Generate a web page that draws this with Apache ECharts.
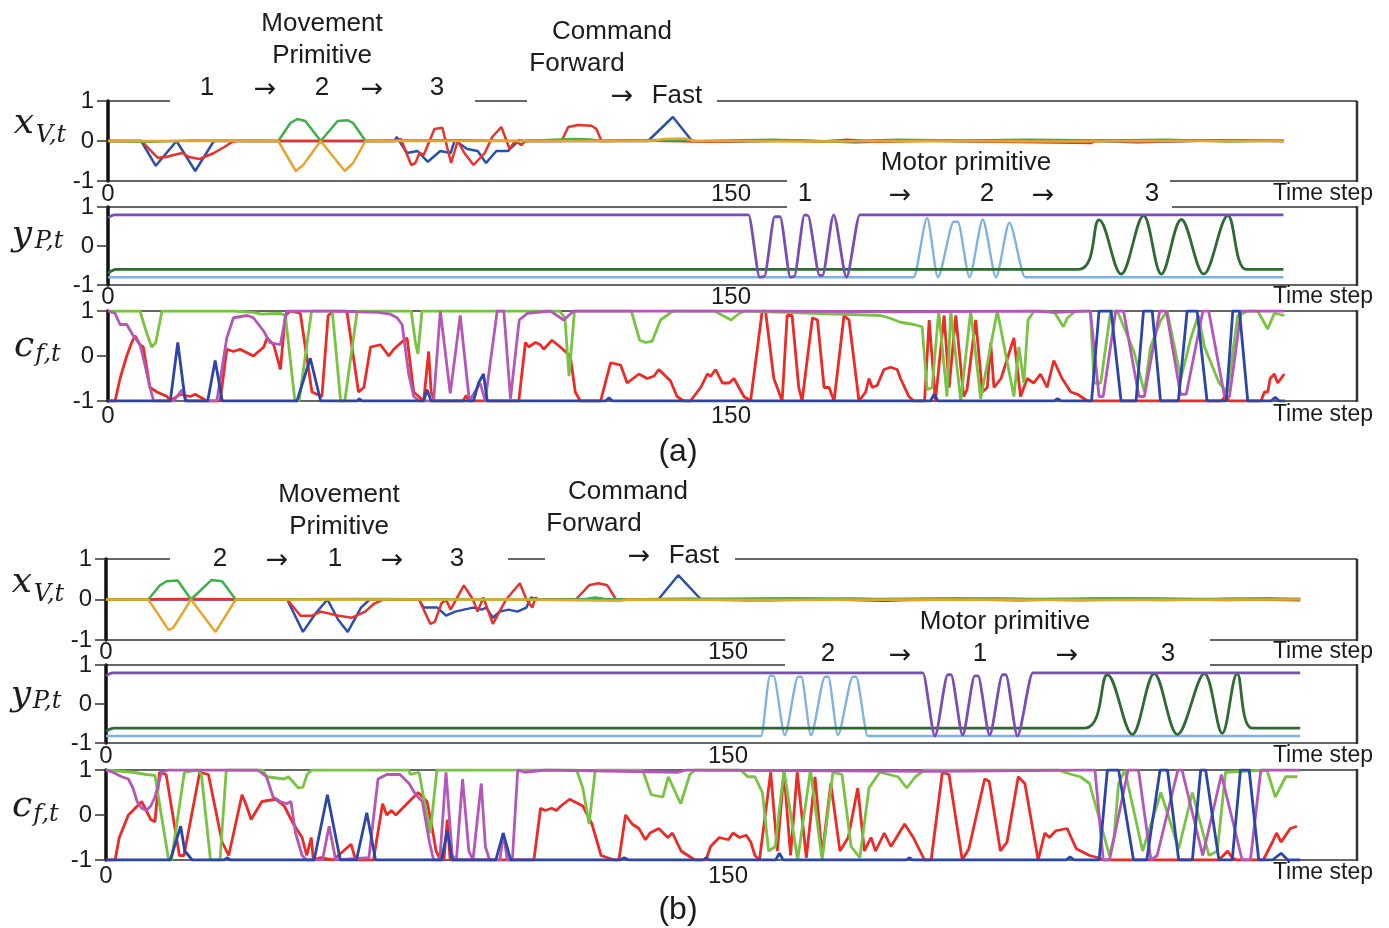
<!DOCTYPE html>
<html><head><meta charset="utf-8">
<script src="https://cdn.jsdelivr.net/npm/echarts@6/dist/echarts.min.js"></script>
<style>html,body{margin:0;padding:0;background:#fff}#c{width:1389px;height:928px}</style>
</head><body><div id="c"></div>
<script>
// ---------- tick labels ----------
const xTickLabels = [0, 150];
const yTickLabels = [-1, 0, 1];

// ---------- panel (a) : x_V,t ----------
const aXvBlue = [[0,0],[8,0],[11.5,-0.62],[16.5,0],[21,-0.75],[25.5,0],[69,0],[69.5,0.1],[72,-0.3],[74.5,-0.25],[77,-0.52],[80,-0.25],[82.5,-0.3],[83.5,0.02],[86.5,-0.2],[89,-0.25],[91,-0.55],[93.5,-0.25],[96.3,-0.25],[97,-0.18],[99,0.02],[100,0],[130,0],[136,0.6],[140.6,0],[150,-0.02],[165,0.01],[180,-0.03],[195,0.01],[212,-0.02],[230,0.02],[248,-0.03],[265,0.01],[283,0]];
const aXvRed = [[0,0],[8,0],[12,-0.42],[14,-0.4],[16.5,-0.33],[18,-0.3],[19.5,-0.4],[22,-0.45],[25.5,-0.3],[28,-0.15],[30,-0.02],[31,0],[69,0],[70.5,0.05],[73,-0.6],[74,-0.55],[75,-0.3],[76,-0.35],[78.6,0.3],[80.5,0.33],[82.6,-0.55],[84.2,0],[85.8,-0.3],[88,-0.6],[90.7,-0.3],[92.5,0.1],[94.7,0.35],[96.7,-0.2],[98,0],[99.5,-0.1],[100.5,0],[109.2,0],[110.8,0.35],[113.2,0.4],[116.4,0.38],[117.6,0.3],[118.8,0],[128,0.01],[145,-0.02],[160,0.02],[172,-0.01],[178,0.03],[185,-0.02],[200,0.01],[215,-0.02],[236.6,-0.05],[238,0.01],[250,-0.01],[270,0.02],[283,0]];
const aXvGreen = [[0,0],[10,-0.02],[20,0.01],[41,0],[43.9,0.45],[45.6,0.55],[47.5,0.5],[51.2,0],[55.3,0.5],[57.7,0.52],[59,0.45],[62,0],[70,0.01],[85,0.02],[100,0],[112,0.05],[116,0.04],[119,0],[136,0.03],[140,0.02],[142,0],[160,0.03],[175,-0.01],[190,0.03],[205,0.01],[222,0.03],[240,0.01],[255,0.03],[270,-0.01],[283,0.01]];
const aXvOrange = [[0,0],[41,0],[45.2,-0.75],[47,-0.6],[51.2,0],[57,-0.75],[59,-0.55],[62,0],[100,0],[131,0],[134,0.05],[139,0.06],[141,0],[170,-0.01],[200,0],[230,-0.01],[260,0],[283,0]];

// ---------- panel (a) : y_P,t ----------
const aYpPurple = [[0,0.72],[1.5,0.8],[154.2,0.8],[156.9,-0.8],[158,-0.78],[160.5,0.75],[161.8,0.75],[164.3,-0.8],[165.2,-0.78],[167.7,0.8],[168.5,0.78],[171.3,-0.75],[172,-0.76],[174.7,0.8],[177.8,-0.8],[181,0.8],[283,0.8]];
const aYpLightBlue = [[0,-0.8],[194,-0.8],[197.2,0.72],[199.8,-0.8],[203.6,0.62],[204.6,0.62],[207.4,-0.8],[210.6,0.68],[213.8,-0.8],[217,0.6],[220.8,-0.8],[283,-0.8]];
const aYpGreen = [[0,-0.7],[2,-0.6],[233.7,-0.6],[238.6,0.67],[243.9,-0.72],[249.3,0.78],[253.6,-0.72],[258.4,0.68],[263.8,-0.72],[269.6,0.78],[274,-0.6],[283,-0.6]];

// ---------- panel (a) : c_f,t ----------
const aCfRed = [[0,-1],[1.7,-1],[2.9,-0.5],[4.5,0],[5.7,0.3],[6.5,0.45],[7.7,0.25],[8.5,0.2],[10.1,-0.7],[11.8,-0.8],[14.2,-0.9],[15,-1],[17.4,-0.85],[19.8,-0.9],[21,-0.85],[23.8,-1],[27,-1],[28.6,0.15],[30.2,0.1],[31.8,0.15],[35,0],[37.5,0.2],[38.3,0.4],[39.9,0.25],[41.5,-0.3],[42.7,0.9],[43.9,1],[46.3,0.95],[49.1,-0.8],[51.5,-0.9],[53,0.9],[54.3,1],[57.5,1],[60.3,-0.8],[61.6,-0.7],[63.2,0.2],[65.6,0.25],[67.6,0],[68.8,0.15],[71.2,0.35],[72,0.4],[73.6,-0.8],[74.8,-0.9],[76,-1],[77.2,0.1],[77.8,-0.8],[78.6,-1],[85.5,-1],[86.2,-0.88],[87,-1],[98.9,-1],[100.5,0.3],[101.3,0.2],[102.9,0.3],[104.1,0.25],[104.9,0.15],[106.9,0.35],[108.9,0.2],[111.3,0],[112.5,-0.8],[113.7,-1],[118.6,-1],[121,-0.15],[123.4,-0.2],[125,-0.6],[127.8,-0.4],[129.8,-0.5],[131.4,-0.45],[132.6,-0.3],[135.4,-0.55],[137,-0.9],[138.6,-1],[140.2,-1],[142.7,-0.7],[144.3,-0.4],[145.1,-0.45],[146.3,-0.3],[147.9,-0.6],[149.5,-0.6],[150.7,-0.5],[153.1,-0.9],[154.7,-1],[157.5,1],[158.3,1],[160.3,-0.5],[162.3,-1],[163.5,0.9],[164.7,0.9],[166.3,-0.7],[167.1,-1],[169.6,0.85],[170.8,0.8],[172.4,-0.7],[173.6,-0.7],[174.8,-1],[177.2,0.9],[178.4,0.8],[180.8,-1],[182.4,-0.8],[183.2,-0.5],[184,-0.7],[185.2,-0.65],[186.8,-0.3],[188.4,-0.25],[190,-0.3],[190.8,-0.5],[192.8,-0.9],[194,-1],[196.6,-1],[197.7,0.8],[199.2,-1],[201.3,0.9],[202.5,-0.7],[204.1,0.9],[206,-0.9],[206.8,-0.75],[208.9,0.8],[210.5,-0.8],[211.7,-0.7],[212.5,0.3],[213.3,-0.7],[215,-0.5],[218.1,0.4],[219.7,-0.9],[221.3,-0.5],[222.9,-0.6],[224.5,-0.4],[226.1,-0.7],[227.7,-0.1],[229.7,-0.5],[231.8,-0.8],[233.4,-0.85],[235.8,-1],[268,-1],[269,-0.9],[270,-1],[277.6,-1],[278.4,-0.8],[279.2,-0.8],[279.8,-0.5],[280.8,-0.4],[281.6,-0.6],[283.2,-0.4]];
const aCfGreen = [[0,1],[7.7,1],[9,0.6],[10.5,0.2],[11.5,0.3],[13,1],[30,1],[35,0.97],[37,0.93],[41.5,0.95],[42.7,0.9],[45,-1],[46,-1],[49,1],[54,1],[56,-1],[57,-1],[60,1],[73,1],[74,0.3],[74.6,0.05],[75.6,1],[108.7,1],[110,0.85],[111,-0.45],[112.3,1],[126,1],[128,0.35],[129.5,0.3],[131,0.33],[133,0.8],[134.5,0.9],[136,1],[146,1],[148,0.9],[150,0.8],[152,0.95],[153.5,1],[186,0.9],[188,0.85],[190.8,0.75],[194,0.7],[196,0.65],[197.2,-0.75],[198.4,-0.7],[200,1],[202,-0.9],[202.9,1],[205.3,-1],[207.7,1],[210.1,-0.95],[214.1,1],[218.1,-0.9],[219.3,0.2],[220.5,-0.6],[221.5,0.8],[223,1],[226,1],[228,0.95],[230,0.65],[231,0.85],[233,1],[236.5,1],[237.4,-0.6],[239,-0.6],[241.4,1],[243,1],[247,0.1],[249.5,-0.8],[251,0.2],[253.5,0.8],[255,1],[258.3,-0.5],[260.7,0.4],[262.5,0.9],[264,0.2],[267.5,-0.6],[269.5,-0.8],[272,0.9],[274.4,1],[276.8,1],[279.2,0.6],[280.8,0.95],[283.2,0.9]];
const aCfMagenta = [[0,1],[1.7,0.95],[2.9,0.7],[4.5,0.7],[6.1,0.45],[7.7,0.25],[8.9,-0.2],[10.1,-0.7],[11,-1],[15.8,-1],[17.8,-0.75],[19,-1],[26.2,-1],[28.6,0.4],[30.2,0.85],[33.5,0.9],[35,0.85],[37.5,0.55],[39,0.3],[41.5,0.25],[43,1],[55,1],[60,0.98],[65,0.97],[68,0.93],[69.6,0.85],[70.8,0.7],[72.4,-0.4],[73.6,-0.9],[75,-1],[78.4,-1],[80,1],[82.4,-0.83],[84.8,0.9],[87,-1],[89.6,-0.6],[90.8,-1],[93.7,1],[95.3,1],[96.9,-0.95],[99,0.8],[101,0.95],[106.5,1],[108.9,0.85],[109.7,0.8],[112.1,1],[160,1],[190,0.98],[223,1],[228,0.97],[235.5,1],[236.5,1],[238.6,-0.9],[239.6,-0.9],[242.6,1],[244.5,1],[248.2,-0.9],[249.5,-0.9],[253.2,1],[254.8,1],[258.2,-0.85],[259.6,-0.85],[263.6,1],[265,1],[268.8,-0.9],[270,-0.9],[272.8,1],[283.2,1]];
const aCfBlue = [[0,-1],[15,-1],[16.8,0.3],[18.6,-1],[24,-1],[25.8,-0.1],[27.5,-1],[45.5,-1],[48.7,-0.05],[51.2,-1],[60,-1],[60.5,-0.95],[61.2,-1],[76,-1],[76.8,-0.75],[77.8,-1],[88,-1],[89.2,-0.6],[90.4,-0.4],[91.3,-1],[119.8,-1],[120.6,-0.93],[121.5,-1],[198,-1],[198.9,-0.85],[199.8,-1],[227.8,-1],[228.6,-0.95],[229.5,-1],[236.8,-1],[238.6,1],[241.5,1],[243.9,-1],[247.5,-1],[249.3,1],[251.4,1],[253.4,-1],[257.7,-1],[259.8,1],[262.2,1],[264.6,-1],[269.2,-1],[270.8,1],[272.4,1],[274.4,-1],[280,-1],[281,-0.92],[282,-1],[283.4,-1]];

// ---------- panel (b) : x_V,t ----------
const bXvBlue = [[0,0],[43.7,0],[47.5,-0.8],[50.5,-0.35],[53.4,0],[56,-0.5],[58.3,-0.8],[61.5,-0.2],[63.6,0],[75.5,0],[76.6,-0.2],[79.9,-0.2],[82,-0.4],[84.2,-0.3],[86.3,-0.25],[88.5,-0.2],[90.6,-0.25],[91.7,-0.2],[93.3,-0.45],[94.9,-0.3],[97.1,-0.25],[99.2,-0.3],[101.4,-0.2],[102.5,0.05],[103.6,0],[133.2,0],[138,0.6],[143.5,0],[155,-0.02],[170,0.01],[188,-0.03],[200,0.01],[220,-0.02],[240,0.02],[255,-0.01],[272,0.01],[288,-0.02]];
const bXvRed = [[0,0],[20,0.01],[43.7,0],[46.9,-0.4],[49.6,-0.4],[51.8,-0.3],[56.1,-0.4],[59.3,-0.45],[62.5,-0.3],[64.7,-0.1],[66.9,0],[75.5,0],[78.2,-0.6],[79.3,-0.55],[80.9,-0.1],[82,0],[83.1,-0.25],[86.3,0.35],[88.5,0],[89.6,-0.3],[91,0.05],[93.3,-0.6],[94.9,-0.3],[96.5,0],[99.8,0.4],[101.4,0],[102.8,-0.2],[103.6,0.05],[104.2,0],[113.3,0],[116.5,0.35],[118.7,0.4],[120.9,0.35],[123,0],[140,0.02],[160,-0.02],[180,0.02],[195,-0.01],[215,0.02],[235,-0.02],[252,0.02],[270,-0.01],[288,0.01]];
const bXvGreen = [[0,0],[10.2,0],[13,0.35],[14.6,0.45],[17.3,0.47],[20.5,0],[25.4,0.48],[28,0.45],[31.3,0],[60,0.01],[100,0],[115,0],[118,0.05],[121,0],[140,0.01],[165,0.03],[185,0.01],[205,0.03],[225,0.01],[245,0.03],[265,0.01],[280,0.03],[288,0.01]];
const bXvOrange = [[0,0],[10.2,0],[15.1,-0.75],[16.2,-0.7],[20.5,0],[26.4,-0.8],[31.3,0],[100,0],[124,-0.03],[126,0],[160,-0.01],[200,0],[240,-0.01],[288,0]];

// ---------- panel (b) : y_P,t ----------
const bYpLightBlue = [[0,-0.82],[158,-0.82],[160.1,0.72],[161,0.72],[163.7,-0.8],[166.9,0.7],[167.7,0.7],[170,-0.8],[173.4,0.7],[174.2,0.7],[176.5,-0.8],[180.1,0.7],[180.9,0.7],[183.7,-0.82],[288,-0.82]];
const bYpPurple = [[0,0.72],[1.5,0.8],[197,0.8],[199.9,-0.82],[203,0.75],[203.8,0.75],[206.6,-0.8],[209.5,0.72],[210.3,0.72],[213.1,-0.8],[216.2,0.75],[217,0.75],[219.8,-0.82],[223.5,0.8],[288,0.8]];
const bYpGreen = [[0,-0.7],[2,-0.62],[236,-0.62],[241.5,0.75],[247.5,-0.78],[252.8,0.78],[258.4,-0.78],[264.9,0.78],[269.2,-0.75],[272.8,0.78],[276.4,-0.62],[288,-0.62]];

// ---------- panel (b) : c_f,t ----------
const bCfRed = [[0,-1],[2.2,-1],[3.2,-0.5],[5.4,0],[6.5,0.1],[8.6,0.3],[9.7,0.1],[10.8,-0.1],[11.8,-0.15],[12.9,0.95],[14.5,0.9],[17.7,-0.9],[18.8,-0.9],[22.6,0.95],[24.7,0.9],[28,-0.6],[29.6,-0.9],[32.8,0.45],[33.9,0.2],[35,-0.1],[37.6,0.3],[40.9,0.35],[43,0.2],[45.2,-0.2],[47.3,-0.5],[48.4,-0.9],[49.5,-0.5],[50,-1],[51.6,-0.95],[54.8,-1],[59.1,-0.65],[60.2,-1],[64.5,-1],[66.7,0.25],[67.7,0],[68.8,0.1],[69.9,0],[73.1,0.3],[75.3,0.5],[77.4,0.3],[78.5,-0.2],[79.6,-0.8],[80.7,-1],[81.5,-1],[82.3,-0.1],[83,-1],[103.2,-1],[104.8,0.15],[105.9,0.1],[107.5,0.15],[108.6,0.1],[109.7,0.2],[111.8,0.35],[115,0.2],[117.2,-0.2],[119.4,-0.9],[122.6,-1],[123.7,-1],[125.3,0],[126.9,-0.2],[128.5,-0.3],[130.1,-0.55],[131.2,-0.4],[133.3,-0.3],[135.5,-0.5],[136.6,-0.4],[138.7,-0.8],[142,-1],[144.7,-1],[145.8,-0.7],[147.9,-0.5],[150.1,-0.55],[151.2,-0.4],[152.8,-0.5],[154.4,-0.45],[155.5,-0.6],[156.5,-0.9],[157.6,-1],[160.3,0.95],[161.9,-0.8],[163.5,0.95],[165.1,-0.9],[166.7,0.95],[168.9,-0.95],[171,0.85],[172.7,-0.9],[174.8,0.7],[177,-0.8],[179,-0.5],[181.3,0.6],[182.9,-0.8],[184.5,-0.5],[185.6,-0.8],[187.7,-0.4],[189.3,-0.7],[192.6,-0.2],[194.7,-0.5],[197.4,-1],[199,-1],[201.7,0.95],[203.3,0.9],[206.5,-1],[208.1,-0.75],[211.9,0.8],[213,0.75],[215.7,-0.8],[217.3,-0.6],[220,0.85],[221.6,0.7],[224.8,-1],[226.4,-0.4],[227.5,-0.5],[229.1,-0.35],[231.8,-0.3],[234,-0.75],[237.2,-0.9],[239.3,-0.95],[240.4,-1],[268.4,-1],[270.5,-0.8],[271.6,-0.95],[272.7,-1],[279.1,-1],[281.3,-0.6],[282.3,-0.4],[283.4,-0.6],[285.6,-0.3],[287.2,-0.25]];
const bCfGreen = [[0,1],[6.5,0.95],[9.7,0.9],[11.8,0.88],[15.1,-1],[15.8,-1],[18.9,0.95],[22,1],[23,0.9],[25.2,-1],[27.5,-1],[29,1],[37.8,1],[38.8,0.85],[43,0.8],[44,0.85],[46.4,0.6],[47.5,0.62],[48.5,0.9],[49.6,1],[73,1],[73.4,0.9],[75.5,0.95],[78.2,-0.4],[79.8,1],[113.5,1],[115,0.6],[116.5,-0.2],[118,1],[129.4,1],[131.5,0.45],[134.3,0.4],[135.6,0.85],[138.6,0.25],[140.8,0.9],[142,1],[153,1],[154.8,0.85],[156.5,0.85],[158.3,0.5],[159.8,-0.8],[161.4,-0.7],[163.5,1],[166.8,-1],[169.9,1],[172.7,-1],[175.3,0.95],[177.5,0.9],[179.7,-0.7],[181.8,-0.95],[184,0.6],[186.6,0.95],[188.8,0.9],[191,0.85],[193.1,0.6],[195.2,0.85],[197.4,1],[229.6,1],[232.9,0.9],[235,0.85],[237.2,0.7],[242,-0.9],[243.1,-0.5],[244.2,0.7],[245.7,1],[250,-0.8],[254.4,0.5],[258.7,-0.75],[262,0.5],[266,-0.9],[268,-0.8],[270,0.95],[280,1],[282,0.4],[284.5,0.85],[287.3,0.85]];
const bCfMagenta = [[0,1],[1.6,0.95],[3.8,0.85],[5.4,0.8],[6.5,0.6],[7.5,0.3],[8.6,0.15],[9.7,0.1],[10.8,0.2],[11.8,0.4],[13.4,0.95],[15.1,1],[36.6,1],[38.7,0.85],[40.3,0.4],[42,0.3],[43.6,0.25],[44.6,0.3],[45.7,-0.4],[47.3,-0.9],[48.4,-1],[52.2,-1],[53.8,-0.25],[55.4,-1],[63.4,-0.95],[65.6,0.8],[67.7,0.9],[70.9,0.9],[73.1,0.7],[74.7,0.45],[76.3,0.3],[78,-0.6],[79,-1],[80.5,-1],[82,0.95],[83.5,-0.9],[84.5,-1],[86,0.8],[87.5,-0.8],[88.5,-1],[90.5,0.7],[91.5,-0.7],[92.5,-1],[95,-1],[95.8,-0.4],[96.8,-1],[98,-1],[99.3,1],[101,0.95],[106,1],[138,0.95],[140,1],[200,0.97],[236,1],[238.5,1],[240.5,-1],[242,-1],[246.5,1],[249,1],[252,-1],[253.5,-0.9],[258.5,1],[259.5,1],[264.5,-0.9],[269,0.9],[274,-1],[276,-1],[278.5,1],[288,1]];
const bCfBlue = [[0,-1],[15.5,-1],[18,-0.25],[19,-0.8],[20.8,-1],[28.5,-1],[29.2,-0.95],[30,-1],[50.2,-1],[53.4,0.45],[56.5,-1],[60.4,-1],[62.9,0.05],[65,-1],[80.9,-1],[82.3,-0.35],[83.5,-1],[94,-1],[95.8,-0.4],[97.6,-1],[124,-1],[125,-0.95],[126,-1],[144,-1],[144.7,-0.95],[145.5,-1],[161.5,-1],[162.4,-0.85],[163.3,-1],[193,-1],[193.7,-0.95],[194.5,-1],[231.5,-1],[232.5,-0.93],[233.5,-1],[239.5,-1],[241.5,1],[244.2,1],[247.8,-1],[251,-1],[254.2,1],[256,1],[258.7,-1],[262,-1],[264,1],[265.2,1],[268.4,-1],[271.6,-1],[273.6,1],[275.7,1],[278,-1],[281.3,-1],[283.4,-0.85],[285,-1],[288,-1]];

// ---------- layout (positions / styles) ----------
const FONT = '"Liberation Sans", Arial, sans-serif';
const ARROWFONT = '"DejaVu Sans", sans-serif';
const SERIF = '"DejaVu Serif", "Liberation Serif", serif';
const grids = [
  {left:108, top:101, width:1249, height:80, xmax:300.7, lm:1},
  {left:108, top:207, width:1249, height:78, xmax:300.7, lm:0},
  {left:108, top:311, width:1249, height:90, xmax:300.7, lm:3},
  {left:106, top:559, width:1251, height:81, xmax:301.7, lm:0},
  {left:106, top:665, width:1251, height:78, xmax:301.7, lm:1},
  {left:106, top:770, width:1251, height:90, xmax:301.7, lm:4}
];
const C = {
  xvBlue:'#2b4fab', xvRed:'#e8322c', xvGreen:'#3bb14a', xvOrange:'#e9a52b',
  ypPurple:'#7a4cb6', ypLight:'#7fb2e4', ypGreen:'#2f6a31',
  cfRed:'#ee2a26', cfGreen:'#78c442', cfMag:'#b556b9', cfBlue:'#2c46a7'
};
// [grid, data, colour, width, smooth, monotone]
const seriesDefs = [
  [0,aXvBlue,C.xvBlue,2.5,0],[0,aXvRed,C.xvRed,2.5,0],[0,aXvGreen,C.xvGreen,2.5,0],[0,aXvOrange,C.xvOrange,2.5,0],
  [1,aYpLightBlue,C.ypLight,2.4,0.25,'x'],[1,aYpGreen,C.ypGreen,2.8,0.35,null],[1,aYpPurple,C.ypPurple,2.8,0.25,'x'],
  [2,aCfRed,C.cfRed,2.8,0],[2,aCfGreen,C.cfGreen,2.8,0],[2,aCfMagenta,C.cfMag,2.8,0],[2,aCfBlue,C.cfBlue,2.8,0],
  [3,bXvBlue,C.xvBlue,2.5,0],[3,bXvRed,C.xvRed,2.5,0],[3,bXvGreen,C.xvGreen,2.5,0],[3,bXvOrange,C.xvOrange,2.5,0],
  [4,bYpLightBlue,C.ypLight,2.4,0.25,'x'],[4,bYpGreen,C.ypGreen,2.8,0.35,null],[4,bYpPurple,C.ypPurple,2.8,0.25,'x'],
  [5,bCfRed,C.cfRed,2.8,0],[5,bCfGreen,C.cfGreen,2.8,0],[5,bCfMagenta,C.cfMag,2.8,0],[5,bCfBlue,C.cfBlue,2.8,0]
];

const gfx = [];
function T(text, x, y, size, fam) {
  gfx.push({type:'text', z:10, style:{text:text, x:x, y:y, font: size+'px '+(fam||FONT), fill:'#1c1c1c',
    textAlign:'center', textVerticalAlign:'middle', align:'center', verticalAlign:'middle'}});
}
function A(x, y) { T('\u2192', x, y, 27, ARROWFONT); }
function TI(text, x, y, size) {
  gfx.push({type:'text', z:10, style:{text:text, x:x, y:y, font:'italic '+size+'px '+SERIF, fill:'#1c1c1c',
    textAlign:'center', textVerticalAlign:'middle', align:'center', verticalAlign:'middle'}});
}
function L(x1, y1, x2, y2, w) {
  gfx.push({type:'line', z:0, shape:{x1:x1,y1:y1,x2:x2,y2:y2}, style:{stroke:'#333', lineWidth:w||1.5}});
}
function TS(y) {
  gfx.push({type:'text', z:10, style:{text:'Time step', x:1373, y:y, font:'23px '+FONT, fill:'#1c1c1c',
    textAlign:'right', textVerticalAlign:'middle', align:'right', verticalAlign:'middle'}});
}

// ---- panel (a) texts ----
T('Movement',322,24,26); T('Primitive',322,56,26);
T('1',207,88,26); A(265,90); T('2',322,88,26); A(372,90); T('3',437,88,26);
T('Command',612,32,26); T('Forward',577,64,26); A(622,97); T('Fast',677,96,26);
T('Motor primitive',966,163,26);
T('1',805,194,26); A(900,196); T('2',987,194,26); A(1043,196); T('3',1152,194,26);
TS(194); TS(297); TS(415);
T('(a)',678,452,32);
TI('x',24,124,36); TI('V,t',51,136,24);
TI('y',22,236,36); TI('P,t',49,242,24);
TI('c',24,347,36); TI('f,t',48,355,24);
// ---- panel (b) texts ----
T('Movement',339,495,26); T('Primitive',339,527,26);
T('2',220,559,26); A(277,561); T('1',335,559,26); A(392,561); T('3',457,559,26);
T('Command',628,492,26); T('Forward',594,524,26); A(639,557); T('Fast',694,556,26);
T('Motor primitive',1005,622,26);
T('2',828,654,26); A(900,656); T('1',980,654,26); A(1067,656); T('3',1168,654,26);
TS(652); TS(756); TS(873);
T('(b)',678,910,32);
TI('x',22,583,36); TI('V,t',49,595,24);
TI('y',21,696,36); TI('P,t',47,702,24);
TI('c',22,807,36); TI('f,t',46,815,24);

// ---- borders ----
// (a)
L(108,101,170,101); L(475,101,527,101); L(717,101,1357,101);
L(108,181,787,181); L(1170,181,1357,181); L(1357,101,1357,182,2.5);
L(108,207,787,207); L(1172,207,1357,207); L(108,285,1357,285); L(1357,206,1357,286,2.5);
L(108,311,1357,311); L(108,401,1357,401); L(1357,310,1357,402,2.5);
// (b)
L(106,559,170,559); L(508,559,545,559); L(735,559,1357,559);
L(106,640,785,640); L(1210,640,1357,640); L(1357,559,1357,641,2.5);
L(106,665,785,665); L(1210,665,1357,665); L(106,743,1357,743); L(1357,664,1357,744,2.5);
L(106,770,1357,770); L(106,860,1357,860); L(1357,769,1357,861,2.5);

const option = {
  animation:false,
  backgroundColor:'#ffffff',
  grid: grids.map(g => ({left:g.left, top:g.top, width:g.width, height:g.height, containLabel:false})),
  xAxis: grids.map((g,i) => ({
    type:'value', gridIndex:i, min:0, max:g.xmax, interval:150,
    axisLine:{show:false}, axisTick:{show:false}, splitLine:{show:false},
    axisLabel:{margin:g.lm, fontSize:24, fontFamily:FONT, color:'#1c1c1c',
      formatter: v => (xTickLabels.indexOf(v) >= 0 ? String(v) : '')}
  })),
  yAxis: grids.map((g,i) => ({
    type:'value', gridIndex:i, min:-1, max:1, interval:1,
    axisLine:{show:true, onZero:false, lineStyle:{color:'#111', width:3.5}},
    axisTick:{show:true, length:11, lineStyle:{color:'#333', width:1.5}},
    splitLine:{show:false},
    axisLabel:{margin:14, fontSize:24, fontFamily:FONT, color:'#1c1c1c',
      formatter: v => (yTickLabels.indexOf(v) >= 0 ? String(v) : '')}
  })),
  series: seriesDefs.map(d => {
    const s = {
      type:'line', xAxisIndex:d[0], yAxisIndex:d[0], data:d[1], showSymbol:false, symbol:'none',
      smooth:d[4] || false,
      lineStyle:{color:d[2], width:d[3]}, itemStyle:{color:d[2]}, silent:true, z:3
    };
    if (d[5]) s.smoothMonotone = d[5];
    return s;
  }),
  graphic: gfx
};
const chart = echarts.init(document.getElementById('c'), null, {renderer:'canvas'});
chart.setOption(option);
</script></body></html>
